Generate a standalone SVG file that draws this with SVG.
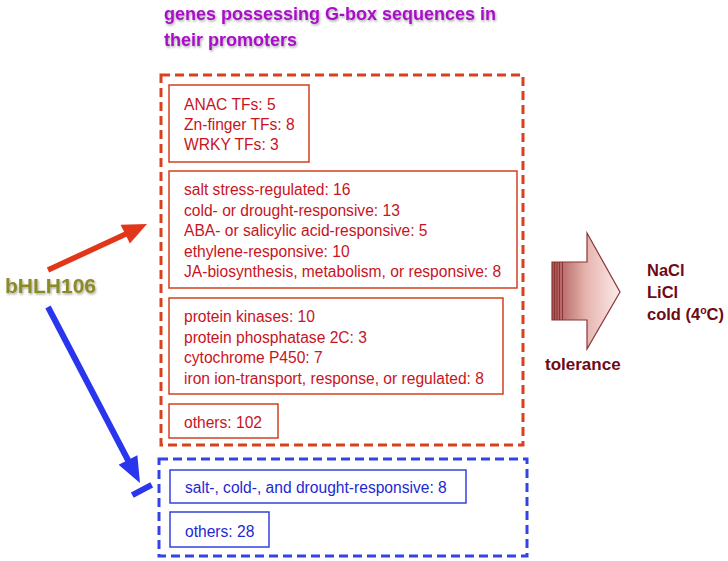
<svg xmlns="http://www.w3.org/2000/svg" width="728" height="561" viewBox="0 0 728 561">
<defs>
<style>
.ttl{font-family:"Liberation Sans",Arial,sans-serif;font-size:18px;font-weight:bold;fill:#a810c8}
.red{font-family:"Liberation Sans",Arial,sans-serif;font-size:15.6px;fill:#c8141e}
.blue{font-family:"Liberation Sans",Arial,sans-serif;font-size:15.6px;fill:#1e28d2}
.mar{font-family:"Liberation Sans",Arial,sans-serif;font-weight:bold;fill:#6e0a16}
.rbox{fill:none;stroke:#d2401e;stroke-width:1.5}
.bbox{fill:none;stroke:#3444dc;stroke-width:1.5}
</style>
<filter id="sh" x="-10%" y="-20%" width="130%" height="160%">
<feDropShadow dx="1" dy="1.5" stdDeviation="0.8" flood-color="#000" flood-opacity="0.35"/>
</filter>
<linearGradient id="ag" x1="0" y1="0" x2="1" y2="0">
<stop offset="0" stop-color="#a85050"/>
<stop offset="0.5" stop-color="#e6b4ae"/>
<stop offset="1" stop-color="#fbecea"/>
</linearGradient>
</defs>
<rect width="728" height="561" fill="#fff"/>

<g id="title" filter="url(#sh)">
<text class="ttl" x="164" y="20">genes possessing G-box sequences in</text>
<text class="ttl" x="164" y="46">their promoters</text>
</g>

<g id="bhlh106">
<text x="5" y="293" font-family="Liberation Sans,Arial,sans-serif" font-size="21" font-weight="bold" fill="#8c8a26" filter="url(#sh)">bHLH106</text>
</g>

<g id="connectors">
<line x1="48" y1="270" x2="128" y2="233" stroke="#e2361a" stroke-width="5.5"/>
<polygon points="147,224 129.9,243.5 120.6,224.7" fill="#e2361a"/>
<line x1="48" y1="307" x2="130" y2="464" stroke="#2a36ee" stroke-width="6"/>
<polygon points="140,483 137.4,455.2 118.6,464.8" fill="#2a36ee"/>
<line x1="132.3" y1="495.1" x2="151.7" y2="484.9" stroke="#2a36ee" stroke-width="6"/>
</g>

<g id="red-group">
<rect x="161" y="75" width="362" height="370" fill="none" stroke="#d84020" stroke-width="3" stroke-dasharray="9,5"/>
</g>

<g id="tf-box">
<rect class="rbox" x="169" y="85" width="140" height="77"/>
<text class="red" x="184" y="110">ANAC TFs: 5</text>
<text class="red" x="184" y="130">Zn-finger TFs: 8</text>
<text class="red" x="184" y="150">WRKY TFs: 3</text>
</g>

<g id="stress-box">
<rect class="rbox" x="169" y="171" width="348" height="117"/>
<text class="red" x="184" y="195">salt stress-regulated: 16</text>
<text class="red" x="184" y="215.5">cold- or drought-responsive: 13</text>
<text class="red" x="184" y="236">ABA- or salicylic acid-responsive: 5</text>
<text class="red" x="184" y="256.5">ethylene-responsive: 10</text>
<text class="red" x="184" y="277">JA-biosynthesis, metabolism, or responsive: 8</text>
</g>

<g id="enzyme-box">
<rect class="rbox" x="169" y="298" width="334" height="96"/>
<text class="red" x="184" y="322">protein kinases: 10</text>
<text class="red" x="184" y="342.5">protein phosphatase 2C: 3</text>
<text class="red" x="184" y="363">cytochrome P450: 7</text>
<text class="red" x="184" y="383.5">iron ion-transport, response, or regulated: 8</text>
</g>

<g id="others-red">
<rect class="rbox" x="169" y="404" width="109" height="34"/>
<text class="red" x="184" y="428">others: 102</text>
</g>

<g id="blue-group">
<rect x="159" y="459" width="368" height="97" fill="none" stroke="#3444e4" stroke-width="3" stroke-dasharray="9,5"/>
</g>

<g id="salt-box">
<rect class="bbox" x="170" y="470" width="296" height="33"/>
<text class="blue" x="185" y="493">salt-, cold-, and drought-responsive: 8</text>
</g>

<g id="others-blue">
<rect class="bbox" x="170" y="512" width="99" height="35"/>
<text class="blue" x="185" y="537">others: 28</text>
</g>

<g id="tolerance-arrow">
<polygon points="552,262 587,262 587,233 620,292 587,349 587,320 552,320" fill="url(#ag)" stroke="#8a3434" stroke-width="1.2"/>
<g stroke="#8a3434" stroke-width="1">
<line x1="554.5" y1="262" x2="554.5" y2="320"/>
<line x1="557" y1="262" x2="557" y2="320"/>
<line x1="559.5" y1="262" x2="559.5" y2="320"/>
<line x1="562.5" y1="262" x2="562.5" y2="320"/>
</g>
<text class="mar" x="545" y="370" font-size="17">tolerance</text>
</g>

<g id="stresses">
<text class="mar" x="647" y="276" font-size="16.5">NaCl</text>
<text class="mar" x="647" y="298" font-size="16.5">LiCl</text>
<text class="mar" x="647" y="320" font-size="16.5">cold (4<tspan font-size="10.5" dy="-6">o</tspan><tspan dy="6">C)</tspan></text>
</g>
</svg>
